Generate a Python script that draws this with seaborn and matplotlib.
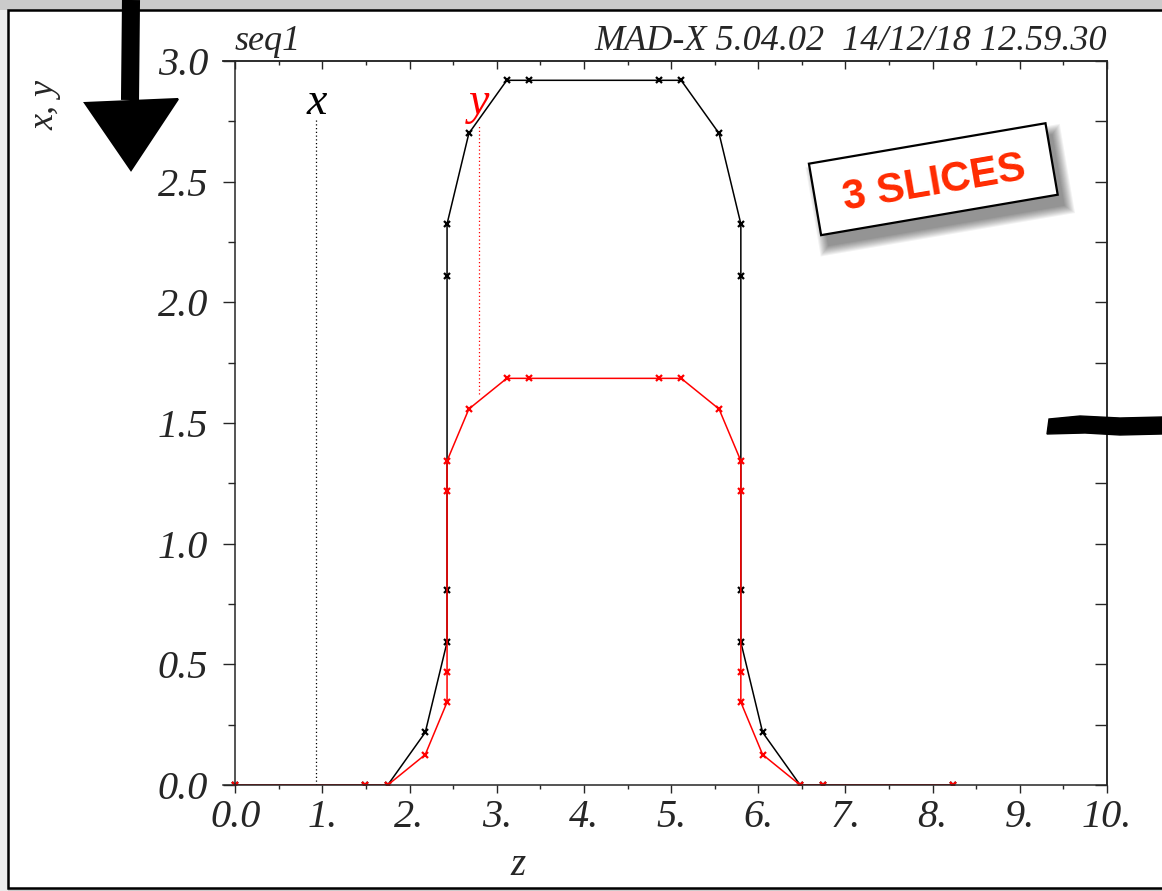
import numpy as np
import pandas as pd
import seaborn as sns
import matplotlib.pyplot as plt
from matplotlib.patches import Rectangle, Polygon
from matplotlib.transforms import Affine2D, IdentityTransform
from matplotlib.lines import Line2D

# envelope data
z = [0.0, 1.49, 1.75, 2.18, 2.43, 2.43, 2.43, 2.43, 2.68, 3.115, 3.365,
     4.865, 5.115, 5.55, 5.80, 5.80, 5.80, 5.80, 6.05, 6.48, 6.74, 8.23]
x_env = [0, 0, 0, 0.218, 0.592, 0.808, 2.11, 2.325, 2.70, 2.92, 2.92,
         2.92, 2.92, 2.70, 2.325, 2.11, 0.808, 0.592, 0.218, 0, 0, 0]
y_env = [0, 0, 0, 0.126, 0.343, 0.467, 1.218, 1.343, 1.558, 1.685, 1.685,
         1.685, 1.685, 1.558, 1.343, 1.218, 0.467, 0.343, 0.126, 0, 0, 0]

# curve name markers (position, vertical extent)
mark_names = ['x', 'y']
mark_z = [0.93, 2.80]
mark_lo = [0.0, 1.62]
mark_hi = [2.76, 2.735]
mark_colors = ['black', 'red']

x_ticks = list(range(11))
x_ticklabels = ['0.0', '1.', '2.', '3.', '4.', '5.', '6.', '7.', '8.', '9.', '10.']
y_ticks = [0.0, 0.5, 1.0, 1.5, 2.0, 2.5, 3.0]
y_ticklabels = ['0.0', '0.5', '1.0', '1.5', '2.0', '2.5', '3.0']

sns.set_style("ticks")
plt.rcParams['font.family'] = ['Liberation Serif', 'DejaVu Serif']
plt.rcParams['font.style'] = 'italic'

W, H = 1162, 891
fig = plt.figure(figsize=(W / 100, H / 100), dpi=100, facecolor='#cbcbcb')
pix = IdentityTransform()


def P(x, y):
    # pixel coords measured from the top-left corner -> display coords
    return (x, H - y)


# page frame
fig.add_artist(Rectangle((0, 0), 8, H - 10, transform=pix, fc='#ececec', ec='none', zorder=-6))
fig.add_artist(Rectangle(P(8, 888), 1170 - 8, 888 - 10, transform=pix,
                         fc='white', ec='black', lw=1.8, zorder=-5))

ax = fig.add_axes([223 / W, (H - 785) / H, (1107 - 223) / W, (785 - 61) / H])
df = pd.DataFrame({'z': z, 'x': x_env, 'y': y_env})
sns.lineplot(data=df, x='z', y='x', ax=ax, color='black', lw=1.1, marker='x',
             markersize=4, markeredgewidth=1.6, markeredgecolor='black',
             sort=False, estimator=None)
sns.lineplot(data=df, x='z', y='y', ax=ax, color='red', lw=1.1, marker='x',
             markersize=4, markeredgewidth=1.6, markeredgecolor='red',
             sort=False, estimator=None)

for name, zz, lo, hi, c in zip(mark_names, mark_z, mark_lo, mark_hi, mark_colors):
    ax.vlines(zz, lo, hi, color=c, linestyles=(0, (1, 2)), lw=0.9)
    ax.text(zz, 2.781, name, color=c, fontsize=33, ha='center', va='baseline')

ax.set_xlim(-0.14, 10)
ax.set_ylim(0, 3)
ax.set_xlabel('')
ax.set_ylabel('')
for s in ax.spines.values():
    s.set_linewidth(1.1)
ax.spines['left'].set_position(('data', 0))

ax.set_xticks(x_ticks, x_ticklabels)
ax.set_xticks(np.arange(0.5, 10, 1), minor=True)
ax.set_yticks(y_ticks, y_ticklabels)
ax.set_yticks(np.arange(0.25, 3, 0.5), minor=True)
ax.tick_params(axis='x', which='major', direction='out', length=5.8, width=1, pad=4, labelsize=29)
ax.tick_params(axis='x', which='minor', direction='out', length=3, width=1)
ax.tick_params(axis='y', which='major', direction='out', length=8.6, width=1, pad=11, labelsize=29)
ax.tick_params(axis='y', which='minor', direction='out', length=5, width=1)
ax.tick_params(top=False, right=False, which='both')

secx = ax.secondary_xaxis('top')
secx.set_xticks(x_ticks)
secx.set_xticks(np.arange(0.5, 10, 1), minor=True)
secx.tick_params(axis='x', which='major', direction='in', length=5.8, width=1, labeltop=False)
secx.tick_params(axis='x', which='minor', direction='in', length=3, width=1)
secx.spines['top'].set_linewidth(1.1)

secy = ax.secondary_yaxis('right')
secy.set_yticks(y_ticks)
secy.set_yticks(np.arange(0.25, 3, 0.5), minor=True)
secy.tick_params(axis='y', which='both', direction='in', length=9, width=1, labelright=False)
secy.spines['right'].set_linewidth(1.1)

# header, axis titles
fig.text(*P(235, 50), 'seq1', transform=pix, fontsize=26, ha='left', va='baseline')
fig.text(*P(1107, 50), 'MAD-X 5.04.02  14/12/18 12.59.30', transform=pix,
         fontsize=26, ha='right', va='baseline')
fig.text(*P(45, 105), 'x, y', transform=pix, fontsize=26, rotation=90, ha='center', va='center')
fig.text(*P(518, 875), 'z', transform=pix, fontsize=28, ha='center', va='baseline')

# "3 SLICES" stamp with soft shadow
cx, cy = P(933.3, 179.2)
bw, bh, ang = 240, 72.5, 9.7
for k in range(10):
    g = k
    fig.add_artist(Rectangle((-bw / 2 - g + 5, -bh / 2 - g - 12), bw + 2 * g, bh + 2 * g,
                             transform=Affine2D().rotate_deg(ang).translate(cx, cy),
                             fc='black', ec='none', alpha=0.05, zorder=9))
fig.add_artist(Rectangle((-bw / 2, -bh / 2), bw, bh,
                         transform=Affine2D().rotate_deg(ang).translate(cx, cy),
                         fc='white', ec='black', lw=1.6, zorder=10))
th = np.deg2rad(ang)
fig.text(cx + 15 * np.sin(th), cy - 15 * np.cos(th), '3 SLICES', transform=pix,
         rotation=ang, rotation_mode='anchor', ha='center', va='baseline',
         color='#ff2a00', fontsize=30, fontweight='bold', fontstyle='normal',
         family='Liberation Sans', zorder=11)

# hand-drawn arrow and scribble
fig.add_artist(Line2D([131, 130], [H - 0, H - 100], transform=pix, color='black',
                      lw=13, solid_capstyle='butt', zorder=10))
fig.add_artist(Polygon([P(85, 103), P(178, 99), P(131, 170)], closed=True, transform=pix,
                       fc='black', ec='black', lw=1.5, zorder=10))
fig.add_artist(Polygon([P(1049, 419), P(1080, 416), P(1120, 418), P(1162, 417),
                        P(1162, 434), P(1120, 435), P(1085, 433), P(1047, 434)],
                       closed=True, transform=pix, fc='black', ec='black', lw=1, zorder=10))

fig.savefig('out.png', dpi=100, facecolor=fig.get_facecolor())
